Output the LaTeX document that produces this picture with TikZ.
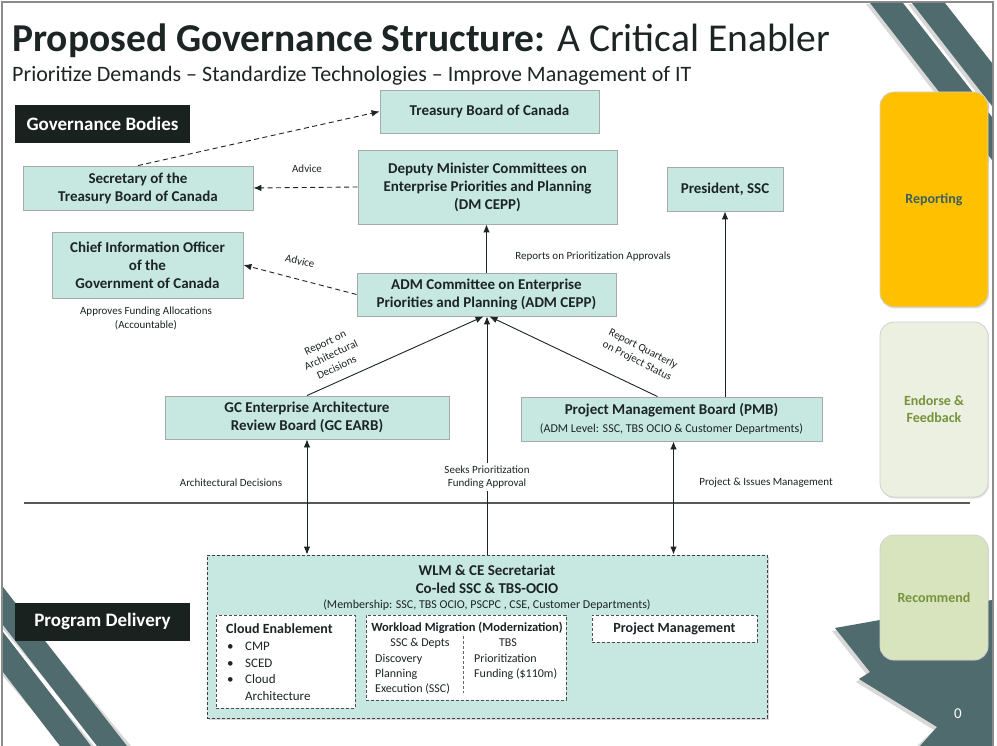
\documentclass[tikz,border=0pt]{standalone}
\usepackage{fontspec}
\setmainfont{Carlito}
\usetikzlibrary{arrows.meta,shadows,calc}
\definecolor{boxfill}{RGB}{198,232,225}
\definecolor{boxline}{RGB}{165,170,170}
\definecolor{slate}{RGB}{80,107,109}
\definecolor{labelbg}{RGB}{26,34,32}
\definecolor{txt}{RGB}{28,36,36}
\definecolor{gold}{RGB}{255,192,0}
\definecolor{goldtxt}{RGB}{60,95,95}
\definecolor{endfill}{RGB}{235,240,224}
\definecolor{recfill}{RGB}{215,228,189}
\definecolor{olive}{RGB}{119,147,60}
\newcommand\fsz[2]{\fontsize{#1}{#2}\selectfont}
\begin{document}
\begin{tikzpicture}[x=1pt,y=-1pt,
  govbox/.style={draw=boxline, fill=boxfill, line width=0.9pt, align=center, text=txt, font=\bfseries\fsz{15}{18}, inner sep=0pt},
  lbl/.style={font=\fsz{11}{13.5}, text=txt, align=center, inner sep=1pt},
  dasharrow/.style={draw=txt, dash pattern=on 5pt off 3.5pt, line width=0.9pt, -{Latex[length=8pt,width=6.5pt]}},
  solidarrow/.style={draw=txt, line width=0.9pt, -{Latex[length=8pt,width=6.5pt]}},
  twoarrow/.style={draw=txt, line width=0.9pt, {Latex[length=8pt,width=6.5pt]}-{Latex[length=8pt,width=6.5pt]}},
  headbox/.style={fill=labelbg, text=white, font=\bfseries\fsz{19}{22}, minimum width=175pt, minimum height=38pt, inner sep=0pt},
  sidepanel/.style={rounded corners=14pt, draw=black!18, line width=0.8pt, font=\bfseries\fsz{14}{17}, align=center, minimum width=108pt, inner sep=0pt, drop shadow={opacity=0.25, shadow xshift=1pt, shadow yshift=-1.5pt}},
  inbox/.style={draw=black!70, dash pattern=on 3pt off 2pt, fill=white, line width=0.8pt},
  intext/.style={anchor=base west, inner sep=0pt, text=txt}
]
\useasboundingbox (0,0) rectangle (997,746);
\fill[white] (0,0) rectangle (997,746);
% frame
\draw[black!45, line width=1.5pt] (2,746) -- (2,2) -- (993,2) -- (993,746);

% decorative stripes (top right)
\fill[black!25, opacity=0.6] (866,4) -- (899,4) -- (989,120) -- (989,163) -- cycle;
\fill[black!25, opacity=0.6] (908,4) -- (941,4) -- (989,66) -- (989,109) -- cycle;
\fill[slate] (870,3) -- (903,3) -- (992,117) -- (992,160) -- cycle;
\fill[slate] (912,3) -- (945,3) -- (992,63) -- (992,106) -- cycle;
% decorative stripes (bottom left)
\fill[black!25, opacity=0.6] (3,591) -- (3,629) -- (100,746) -- (131,746) -- cycle;
\fill[black!25, opacity=0.6] (3,636) -- (3,676) -- (63,746) -- (94,746) -- cycle;
\fill[slate] (3,587) -- (3,625) -- (97,746) -- (127,746) -- cycle;
\fill[slate] (3,632) -- (3,672) -- (60,746) -- (91,746) -- cycle;
% chevron (bottom right)
\fill[black!25, opacity=0.6] (832,631) -- (880,623) -- (992,603) -- (992,746) -- (917,746) -- (934,730) -- (856,682) -- (867,675) -- cycle;
\fill[slate] (835,628) -- (880,620) -- (992,600) -- (992,746) -- (920,746) -- (937,727) -- (859,679) -- (870,672) -- cycle;
\node[text=white, font=\fsz{15}{18}, inner sep=0pt] (pagenum) at (958,714) {0};

% title
\node[anchor=base west, inner sep=0pt, text=txt, font=\fsz{39.5}{47}] (title) at (12,52) {\bfseries Proposed Governance Structure:\mdseries{} A Critical Enabler};
\node[anchor=base west, inner sep=0pt, text=txt, font=\fsz{22}{26}] (subtitle) at (12,82) {Prioritize Demands -- Standardize Technologies -- Improve Management of IT};

% section headers
\node[headbox] (gb) at (102.5,124) {Governance Bodies};
\node[headbox] (pd) at (102.5,621.5) {Program Delivery};

% side panels
\node[sidepanel, fill=gold, text=goldtxt, minimum height=215pt] (rep) at (934,199.5) {Reporting};
\node[sidepanel, fill=endfill, text=olive, minimum height=175pt] (endo) at (934,409.5) {Endorse \&\\Feedback};
\node[sidepanel, fill=recfill, text=olive, minimum height=125pt] (recm) at (934,597.5) {Recommend};

% governance boxes
\node[govbox, minimum width=219pt, minimum height=43pt] (tb) at (489.5,111.5) {Treasury Board of Canada};
\node[govbox, minimum width=259pt, minimum height=74pt] (dm) at (487.5,187) {Deputy Minister Committees on\\Enterprise Priorities and Planning\\(DM CEPP)};
\node[govbox, minimum width=230pt, minimum height=44pt] (sec) at (138,188) {Secretary of the\\Treasury Board of Canada};
\node[govbox, minimum width=116pt, minimum height=44pt] (pres) at (725,189) {President, SSC};
\node[govbox, minimum width=191pt, minimum height=66pt] (cio) at (147.5,265) {Chief Information Officer\\of the\\Government of Canada};
\node[govbox, minimum width=259pt, minimum height=43pt] (adm) at (486.5,294.5) {ADM Committee on Enterprise\\Priorities and Planning (ADM CEPP)};
\node[govbox, minimum width=284pt, minimum height=43pt] (earb) at (307,417.5) {GC Enterprise Architecture\\Review Board (GC EARB)};
\node[govbox, minimum width=301pt, minimum height=44pt] (pmb) at (671.5,419) {Project Management Board (PMB)\\{\mdseries\fsz{12}{15}(ADM Level: SSC, TBS OCIO \& Customer Departments)}};

% secretariat
\node[draw=black!75, dash pattern=on 3pt off 2pt, fill=boxfill, line width=0.9pt, minimum width=560pt, minimum height=163pt, inner sep=0pt, drop shadow={opacity=0.3, shadow xshift=1.5pt, shadow yshift=-1.5pt}] (secr) at (487,636.5) {};
\node[text=txt, font=\bfseries\fsz{15}{18}, align=center, inner sep=0pt] (secrt) at (487,579) {WLM \& CE Secretariat\\Co-led SSC \& TBS-OCIO};
\node[text=txt, font=\fsz{12}{14}, inner sep=0pt] (memb) at (487,605) {(Membership: SSC, TBS OCIO, PSCPC , CSE, Customer Departments)};

\node[inbox, minimum width=139pt, minimum height=93pt, inner sep=0pt] (ce) at (285.5,661.5) {};
\node[intext, font=\bfseries\fsz{14}{17}] (cet) at (226,633) {Cloud Enablement};
\node[intext, font=\fsz{13}{16}] (b1) at (227,650) {\textbullet};
\node[intext, font=\fsz{13}{16}] (c1) at (245,650) {CMP};
\node[intext, font=\fsz{13}{16}] (b2) at (227,667) {\textbullet};
\node[intext, font=\fsz{13}{16}] (c2) at (245,667) {SCED};
\node[intext, font=\fsz{13}{16}] (b3) at (227,683) {\textbullet};
\node[intext, font=\fsz{13}{16}] (c3) at (245,683) {Cloud};
\node[intext, font=\fsz{13}{16}] (c4) at (245,700) {Architecture};

\node[inbox, minimum width=200pt, minimum height=85pt, inner sep=0pt] (wm) at (466,657.5) {};
\node[text=txt, font=\bfseries\fsz{12.5}{15}, inner sep=0pt] (wmt) at (467,628) {Workload Migration (Modernization)};
\draw[black!60, dash pattern=on 3pt off 2pt, line width=0.7pt] (463,636) -- (463,693);
\node[text=txt, font=\fsz{12}{14}, inner sep=0pt] (wl0) at (420,643) {SSC \& Depts};
\node[intext, font=\fsz{12}{14}] (wl1) at (375,662) {Discovery};
\node[intext, font=\fsz{12}{14}] (wl2) at (375,677) {Planning};
\node[intext, font=\fsz{12}{14}] (wl3) at (375,692) {Execution (SSC)};
\node[text=txt, font=\fsz{12}{14}, inner sep=0pt] (wr0) at (508,643) {TBS};
\node[intext, font=\fsz{12}{14}] (wr1) at (474,662) {Prioritization};
\node[intext, font=\fsz{12}{14}] (wr2) at (474,677) {Funding (\$110m)};

\node[inbox, minimum width=165pt, minimum height=27pt, inner sep=0pt, text=txt, font=\bfseries\fsz{14}{17}] (pm) at (674.5,628.5) {Project Management};

% divider
\draw[black!65, line width=1.6pt] (24,503) -- (970,503);

% connectors
\draw[dasharrow] (sec.north) -- (tb.west);
\draw[dasharrow] (dm.west) -- (sec.east);
\draw[dasharrow] (adm.west) -- (cio.east);
\draw[solidarrow] (adm.north) -- (adm.north |- dm.south);
\draw[solidarrow] (earb.north) -- ([xshift=-3pt]adm.south);
\draw[solidarrow] ([xshift=-14pt]pmb.north) -- ([xshift=3pt]adm.south);
\draw[solidarrow] (secr.north) -- (secr.north |- adm.south);
\draw[solidarrow] (pres.south |- pmb.north) -- (pres.south);
\draw[twoarrow] (earb.south) -- (earb.south |- secr.north);
\draw[twoarrow] ([xshift=2pt]pmb.south) -- ([xshift=2pt]pmb.south |- secr.north);

% labels
\node[lbl] (l1) at (307,169) {Advice};
\node[lbl, rotate=-14] (l2) at (300,261) {Advice};
\node[lbl] (l3) at (593,257) {Reports on Prioritization Approvals};
\node[lbl] (l4) at (146,318.5) {Approves Funding Allocations\\(Accountable)};
\node[lbl, rotate=25] (l5) at (331,355) {Report on\\Architectural\\Decisions};
\node[lbl, rotate=-27] (l6) at (640,355) {Report Quarterly\\on Project Status};
\node[lbl] (l7) at (231,483) {Architectural Decisions};
\node[lbl, fill=white, inner ysep=2pt] (l8) at (487,477) {Seeks Prioritization\\Funding Approval};
\node[lbl] (l9) at (766,483) {Project \& Issues Management};
\end{tikzpicture}
\end{document}
